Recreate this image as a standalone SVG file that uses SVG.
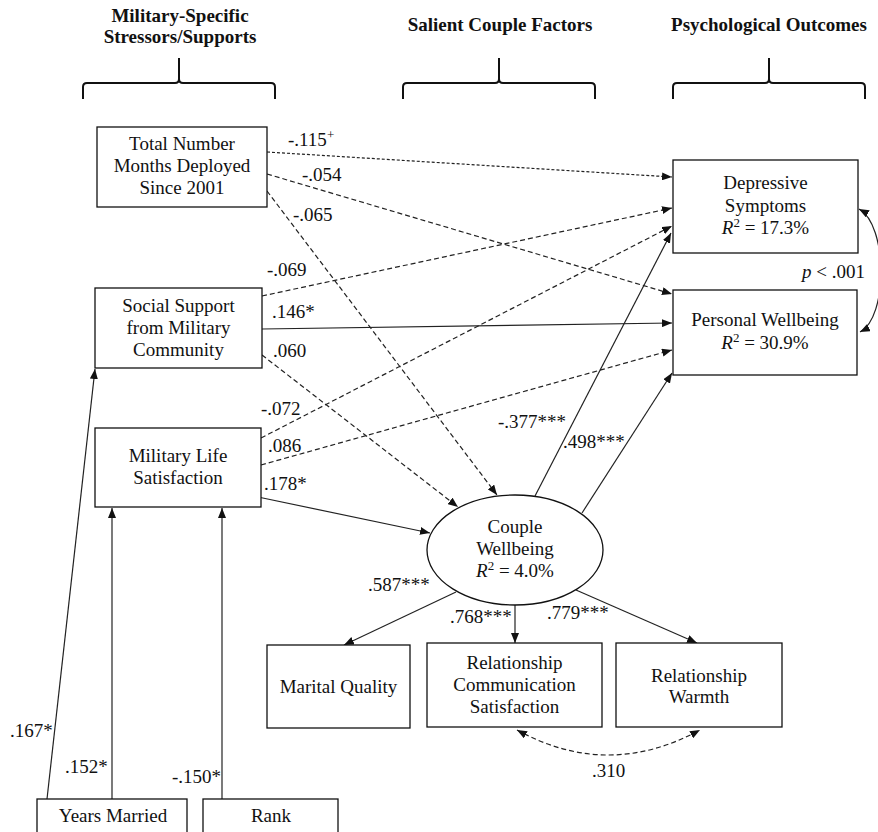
<svg xmlns="http://www.w3.org/2000/svg" width="878" height="832" viewBox="0 0 878 832" font-family="'Liberation Serif', 'DejaVu Serif', serif">
  <defs>
    <marker id="arrow" viewBox="0 0 10 8" refX="10" refY="4" markerWidth="10" markerHeight="8" markerUnits="userSpaceOnUse" orient="auto-start-reverse">
      <path d="M0,0 L10,4 L0,8 z" fill="#111"/>
    </marker>
    <style>
      text { fill: #111; }
      .hdr { font-size: 19px; font-weight: bold; text-anchor: middle; }
      .lbl { font-size: 19px; text-anchor: middle; }
      .coef { font-size: 19px; }
      .box { fill: #fff; stroke: #111; stroke-width: 1.3; }
      .brace { fill: none; stroke: #111; stroke-width: 2; }
      .edge { fill: none; stroke: #222; stroke-width: 1.2; }
      .dot { stroke-dasharray: 3 2; }
      .dash { stroke-dasharray: 5 3; }
      .sup { font-size: 13px; }
    </style>
  </defs>

  <!-- column headers with braces -->
  <g id="header-military">
    <text class="hdr" x="180" y="22">Military-Specific</text>
    <text class="hdr" x="180" y="43">Stressors/Supports</text>
    <path class="brace" d="M83,99 V87 Q83,83 87,83 H175 Q179,83 179,79 V58 M179,79 Q179,83 183,83 H271 Q275,83 275,87 V99"/>
  </g>
  <g id="header-couple">
    <text class="hdr" x="500" y="31">Salient Couple Factors</text>
    <path class="brace" d="M403,99 V87 Q403,83 407,83 H495 Q499,83 499,79 V58 M499,79 Q499,83 503,83 H591 Q595,83 595,87 V99"/>
  </g>
  <g id="header-outcomes">
    <text class="hdr" x="769" y="31">Psychological Outcomes</text>
    <path class="brace" d="M673,99 V87 Q673,83 677,83 H765 Q769,83 769,79 V58 M769,79 Q769,83 773,83 H861 Q865,83 865,87 V99"/>
  </g>

  <!-- paths -->
  <g id="connectors">
    <path class="edge dot" d="M267,152 L672,177" marker-end="url(#arrow)"/>
    <path class="edge dash" d="M267,174 L672,294" marker-end="url(#arrow)"/>
    <path class="edge dash" d="M267,191 L497,495" marker-end="url(#arrow)"/>
    <path class="edge dash" d="M262,296 L672,208" marker-end="url(#arrow)"/>
    <path class="edge" d="M262,329 L672,323" marker-end="url(#arrow)"/>
    <path class="edge dash" d="M262,355 L458,507" marker-end="url(#arrow)"/>
    <path class="edge dash" d="M261,438 L672,226" marker-end="url(#arrow)"/>
    <path class="edge dash" d="M261,465 L672,350" marker-end="url(#arrow)"/>
    <path class="edge" d="M258,497 L430,533" marker-end="url(#arrow)"/>
    <path class="edge" d="M535,496 L671,233" marker-end="url(#arrow)"/>
    <path class="edge" d="M582,513 L672,373" marker-end="url(#arrow)"/>
    <path class="edge" d="M456,592 L344,645" marker-end="url(#arrow)"/>
    <path class="edge" d="M515,605 L515,643" marker-end="url(#arrow)"/>
    <path class="edge" d="M576,590 L697,643" marker-end="url(#arrow)"/>
    <path class="edge dash" d="M517,730 Q608,780 700,730" marker-start="url(#arrow)" marker-end="url(#arrow)"/>
    <path class="edge" d="M859,209 C888,225 888,318 860,332" marker-start="url(#arrow)" marker-end="url(#arrow)"/>
    <path class="edge" d="M47,799 L95,369" marker-end="url(#arrow)"/>
    <path class="edge" d="M112,799 L112,508" marker-end="url(#arrow)"/>
    <path class="edge" d="M222,799 L222,508" marker-end="url(#arrow)"/>

    <text class="coef" x="288" y="146">-.115<tspan class="sup" dy="-7">+</tspan></text>
    <text class="coef" x="302" y="181">-.054</text>
    <text class="coef" x="293" y="221">-.065</text>
    <text class="coef" x="267" y="276">-.069</text>
    <text class="coef" x="272" y="318">.146*</text>
    <text class="coef" x="273" y="357">.060</text>
    <text class="coef" x="261" y="415">-.072</text>
    <text class="coef" x="268" y="452">.086</text>
    <text class="coef" x="264" y="490">.178*</text>
    <text class="coef" x="498" y="428">-.377***</text>
    <text class="coef" x="563" y="448">.498***</text>
    <text class="coef" x="368" y="591">.587***</text>
    <text class="coef" x="450" y="623">.768***</text>
    <text class="coef" x="547" y="619">.779***</text>
    <text class="coef" x="592" y="777">.310</text>
    <text class="coef" x="10" y="737">.167*</text>
    <text class="coef" x="65" y="773">.152*</text>
    <text class="coef" x="172" y="783">-.150*</text>
    <text class="coef" x="802" y="278"><tspan font-style="italic">p</tspan> &lt; .001</text>
  </g>

  <!-- predictors -->
  <g id="months-deployed">
    <rect class="box" x="97" y="127" width="170" height="80"/>
    <text class="lbl" x="182" y="150">Total Number</text>
    <text class="lbl" x="182" y="172">Months Deployed</text>
    <text class="lbl" x="182" y="194">Since 2001</text>
  </g>
  <g id="social-support">
    <rect class="box" x="95" y="288" width="167" height="80"/>
    <text class="lbl" x="178.5" y="312">Social Support</text>
    <text class="lbl" x="178.5" y="334">from Military</text>
    <text class="lbl" x="178.5" y="356">Community</text>
  </g>
  <g id="military-life">
    <rect class="box" x="95" y="428" width="166" height="79"/>
    <text class="lbl" x="178" y="462">Military Life</text>
    <text class="lbl" x="178" y="484">Satisfaction</text>
  </g>

  <!-- outcomes -->
  <g id="depressive">
    <rect class="box" x="673" y="160" width="185" height="93"/>
    <text class="lbl" x="765.5" y="189">Depressive</text>
    <text class="lbl" x="765.5" y="212">Symptoms</text>
    <text class="lbl" x="765.5" y="234"><tspan font-style="italic">R</tspan><tspan class="sup" dy="-7">2</tspan><tspan dy="7"> = 17.3%</tspan></text>
  </g>
  <g id="personal-wellbeing">
    <rect class="box" x="673" y="290" width="184" height="85"/>
    <text class="lbl" x="765" y="326">Personal Wellbeing</text>
    <text class="lbl" x="765" y="349"><tspan font-style="italic">R</tspan><tspan class="sup" dy="-7">2</tspan><tspan dy="7"> = 30.9%</tspan></text>
  </g>

  <!-- latent factor -->
  <g id="couple-wellbeing">
    <ellipse cx="515" cy="550" rx="88" ry="55" fill="#fff" stroke="#111" stroke-width="1.3"/>
    <text class="lbl" x="515" y="533">Couple</text>
    <text class="lbl" x="515" y="555">Wellbeing</text>
    <text class="lbl" x="515" y="577"><tspan font-style="italic">R</tspan><tspan class="sup" dy="-7">2</tspan><tspan dy="7"> = 4.0%</tspan></text>
  </g>

  <!-- indicators -->
  <g id="marital-quality">
    <rect class="box" x="267" y="645" width="143" height="83"/>
    <text class="lbl" x="338.5" y="693">Marital Quality</text>
  </g>
  <g id="communication">
    <rect class="box" x="427" y="643" width="175" height="84"/>
    <text class="lbl" x="514.5" y="669">Relationship</text>
    <text class="lbl" x="514.5" y="691">Communication</text>
    <text class="lbl" x="514.5" y="713">Satisfaction</text>
  </g>
  <g id="warmth">
    <rect class="box" x="616" y="643" width="166" height="84"/>
    <text class="lbl" x="699" y="682">Relationship</text>
    <text class="lbl" x="699" y="703">Warmth</text>
  </g>

  <!-- covariates -->
  <g id="years-married">
    <rect class="box" x="37" y="799" width="150" height="50"/>
    <text class="lbl" x="113" y="822">Years Married</text>
  </g>
  <g id="rank">
    <rect class="box" x="203" y="799" width="135" height="50"/>
    <text class="lbl" x="271" y="822">Rank</text>
  </g>
</svg>
